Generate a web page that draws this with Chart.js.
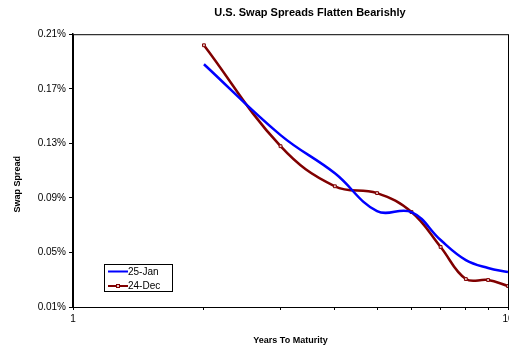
<!DOCTYPE html>
<html>
<head>
<meta charset="utf-8">
<script src="https://cdn.jsdelivr.net/npm/chart.js@4"></script>
<style>
  html, body { margin: 0; padding: 0; background: #fff; overflow: hidden; }
  #wrap { width: 509px; height: 346px; overflow: hidden; }
</style>
</head>
<body>
<div id="wrap"><canvas id="swap" width="620" height="346"></canvas></div>
<script>
// data (spread in %)
const years = [2, 3, 4, 5, 6, 7, 8, 9, 10];
const jan25 = [0.188, 0.136, 0.108, 0.0803, 0.0796, 0.0591, 0.0444, 0.0386, 0.0356];
const dec24 = [0.2019, 0.1279, 0.0985, 0.0935, 0.0796, 0.0540, 0.0305, 0.0298, 0.0254];
const yTicks = [0.01, 0.05, 0.09, 0.13, 0.17, 0.21];
const xTicks = [1, 2, 3, 4, 5, 6, 7, 8, 9, 10];
const xLabels = [1, 10];

const font = "'Liberation Sans', Arial, sans-serif";

// box round plot area + legend inside it
const boxPlugin = {
    id: 'boxPlugin',
    afterDraw(chart) {
        const ctx = chart.ctx;
        const a = chart.chartArea;
        ctx.save();
        ctx.strokeStyle = '#000';
        ctx.lineWidth = 1;
        ctx.strokeRect(a.left + 0.5, a.top + 0.5, a.right - a.left, a.bottom - a.top);

        // legend
        const lx = a.left + 31, ly = a.bottom - 43, lw = 68, lh = 27;
        ctx.fillStyle = '#fff';
        ctx.fillRect(lx, ly, lw, lh);
        ctx.strokeRect(lx + 0.5, ly + 0.5, lw, lh);
        ctx.font = '10px ' + font;
        ctx.textBaseline = 'middle';
        chart.data.datasets.forEach((ds, i) => {
            const y = ly + 7.5 + i * 14.5;
            ctx.strokeStyle = ds.borderColor;
            ctx.lineWidth = 2;
            ctx.beginPath();
            ctx.moveTo(lx + 4, y);
            ctx.lineTo(lx + 24, y);
            ctx.stroke();
            if (ds.pointRadius > 0) {
                ctx.lineWidth = 1;
                ctx.fillStyle = ds.pointBackgroundColor;
                ctx.fillRect(lx + 12.5, y - 1.5, 3, 3);
                ctx.strokeRect(lx + 12.5, y - 1.5, 3, 3);
            }
            ctx.fillStyle = '#000';
            ctx.fillText(ds.label, lx + 24, y + 0.5);
        });
        ctx.restore();
    }
};

new Chart(document.getElementById('swap'), {
    type: 'line',
    data: {
        datasets: [{
            label: '25-Jan',
            data: years.map((x, i) => ({ x: x, y: jan25[i] })),
            borderColor: '#0000ff',
            borderWidth: 2.5,
            pointRadius: 0,
            tension: 0.4,
            fill: false
        }, {
            label: '24-Dec',
            data: years.map((x, i) => ({ x: x, y: dec24[i] })),
            borderColor: '#800000',
            borderWidth: 2.5,
            pointStyle: 'rect',
            pointRadius: 2,
            pointBorderWidth: 1,
            pointBorderColor: '#800000',
            pointBackgroundColor: '#e8c8c8',
            tension: 0.4,
            fill: false
        }]
    },
    options: {
        responsive: false,
        animation: false,
        plugins: {
            legend: { display: false },
            tooltip: { enabled: false },
            title: {
                display: true,
                text: 'U.S. Swap Spreads Flatten Bearishly',
                color: '#000',
                font: { family: font, size: 11, weight: 'bold' },
                padding: { top: 6, bottom: 15 }
            }
        },
        scales: {
            x: {
                type: 'logarithmic',
                min: 1,
                max: 10,
                afterBuildTicks: s => { s.ticks = xTicks.map(v => ({ value: v })); },
                afterFit: s => { s.height = 39; },
                ticks: {
                    autoSkip: false,
                    maxRotation: 0,
                    color: '#000',
                    padding: 3,
                    font: { family: font, size: 10 },
                    callback: v => xLabels.includes(v) ? String(v) : ''
                },
                grid: { drawOnChartArea: false, tickLength: 3, color: '#000' },
                border: { color: '#000', width: 1 },
                title: {
                    display: true,
                    text: 'Years To Maturity',
                    color: '#000',
                    font: { family: font, size: 9, weight: 'bold' },
                    padding: { top: 4, bottom: 0 }
                }
            },
            y: {
                min: 0.01,
                max: 0.21,
                afterBuildTicks: s => { s.ticks = yTicks.map(v => ({ value: v })); },
                afterFit: s => { s.width = 73; },
                ticks: {
                    color: '#000',
                    padding: 3,
                    font: { family: font, size: 10 },
                    callback: v => v.toFixed(2) + '%'
                },
                grid: { drawOnChartArea: false, tickLength: 4, color: '#000' },
                border: { color: '#000', width: 1.5 },
                title: {
                    display: true,
                    text: 'Swap Spread' + '\u00a0'.repeat(11),
                    color: '#000',
                    font: { family: font, size: 9, weight: 'bold' },
                    padding: { top: 12, bottom: 0 }
                }
            },
            // empty right-hand space of the (cropped) chart
            yRight: {
                position: 'right',
                min: 0,
                max: 1,
                afterFit: s => { s.width = 112; },
                ticks: { display: false },
                grid: { display: false },
                border: { display: false }
            }
        }
    },
    plugins: [boxPlugin]
});
</script>
</body>
</html>
